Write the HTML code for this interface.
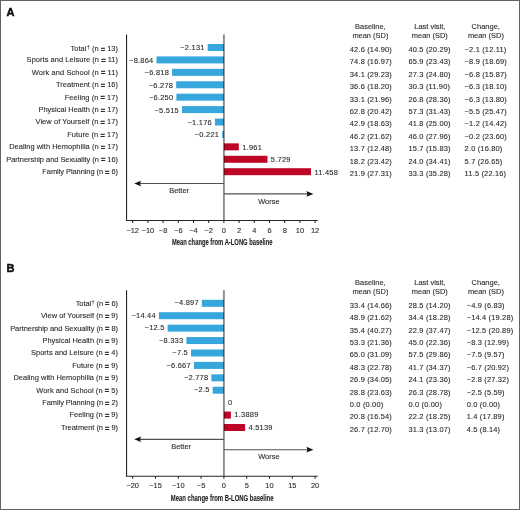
<!DOCTYPE html>
<html><head><meta charset="utf-8"><style>
html,body{margin:0;padding:0;background:#fff;width:520px;height:510px;overflow:hidden}
svg{display:block;will-change:transform}
.v{letter-spacing:0.25px}
.t{letter-spacing:0.17px}
.eq{font-weight:bold;stroke-width:0.35px}
text{font-family:"Liberation Sans",sans-serif;font-size:7.45px;fill:#2a2a2a;stroke:#2a2a2a;stroke-width:0.1px}
</style></head><body>
<svg width="520" height="510" viewBox="0 0 520 510">
<rect x="0" y="0" width="520" height="510" fill="#fff"/>
<text x="6.6" y="15.9" style="font-size:11px;font-weight:bold;fill:#111;stroke:#111;stroke-width:0.5px">A</text>
<rect x="207.7" y="44" width="16.2" height="7" fill="#36a6dc"/>
<text x="204.7" y="50.2" text-anchor="end" class="v">−2.131</text>
<text x="118" y="51.3" text-anchor="end" textLength="47.41">Total<tspan style="font-size:5.6px" dx="0.3" dy="-2.0">†</tspan><tspan dy="2.0"> (n </tspan><tspan class="eq" dy="0.7">=</tspan><tspan dy="-0.7"> 13)</tspan></text>
<text x="349.8" y="51.9" class="t">42.6 (14.90)</text>
<text x="408.5" y="51.9" class="t">40.5 (20.29)</text>
<text x="464.6" y="51.9" class="t">−2.1 (12.11)</text>
<rect x="156.53" y="56.42" width="67.37" height="7" fill="#36a6dc"/>
<text x="153.53" y="62.92" text-anchor="end" class="v">−8.864</text>
<text x="118" y="62.32" text-anchor="end" textLength="91.39">Sports and Leisure (n <tspan class="eq" dy="0.7">=</tspan><tspan dy="-0.7"> 11)</tspan></text>
<text x="349.8" y="64.32" class="t">74.8 (16.97)</text>
<text x="408.5" y="64.32" class="t">65.9 (23.43)</text>
<text x="464.6" y="64.32" class="t">−8.9 (18.69)</text>
<rect x="172.08" y="68.84" width="51.82" height="7" fill="#36a6dc"/>
<text x="169.08" y="75.34" text-anchor="end" class="v">−6.818</text>
<text x="118" y="74.74" text-anchor="end" textLength="86.22">Work and School (n <tspan class="eq" dy="0.7">=</tspan><tspan dy="-0.7"> 11)</tspan></text>
<text x="349.8" y="76.74" class="t">34.1 (29.23)</text>
<text x="408.5" y="76.74" class="t">27.3 (24.80)</text>
<text x="464.6" y="76.74" class="t">−6.8 (15.87)</text>
<rect x="176.19" y="81.26" width="47.71" height="7" fill="#36a6dc"/>
<text x="173.19" y="87.76" text-anchor="end" class="v">−6.278</text>
<text x="118" y="87.16" text-anchor="end" textLength="61.96">Treatment (n <tspan class="eq" dy="0.7">=</tspan><tspan dy="-0.7"> 16)</tspan></text>
<text x="349.8" y="89.16" class="t">36.6 (18.20)</text>
<text x="408.5" y="89.16" class="t">30.3 (11.90)</text>
<text x="464.6" y="89.16" class="t">−6.3 (18.10)</text>
<rect x="176.4" y="93.68" width="47.5" height="7" fill="#36a6dc"/>
<text x="173.4" y="100.18" text-anchor="end" class="v">−6.250</text>
<text x="118" y="99.58" text-anchor="end" textLength="53.31">Feeling (n <tspan class="eq" dy="0.7">=</tspan><tspan dy="-0.7"> 17)</tspan></text>
<text x="349.8" y="101.58" class="t">33.1 (21.96)</text>
<text x="408.5" y="101.58" class="t">26.8 (28.36)</text>
<text x="464.6" y="101.58" class="t">−6.3 (13.80)</text>
<rect x="181.99" y="106.1" width="41.91" height="7" fill="#36a6dc"/>
<text x="178.99" y="112.6" text-anchor="end" class="v">−5.515</text>
<text x="118" y="112" text-anchor="end" textLength="79.57">Physical Health (n <tspan class="eq" dy="0.7">=</tspan><tspan dy="-0.7"> 17)</tspan></text>
<text x="349.8" y="114" class="t">62.8 (20.42)</text>
<text x="408.5" y="114" class="t">57.3 (31.43)</text>
<text x="464.6" y="114" class="t">−5.5 (25.47)</text>
<rect x="214.96" y="118.52" width="8.94" height="7" fill="#36a6dc"/>
<text x="211.96" y="125.02" text-anchor="end" class="v">−1.176</text>
<text x="118" y="124.42" text-anchor="end" textLength="82.50">View of Yourself (n <tspan class="eq" dy="0.7">=</tspan><tspan dy="-0.7"> 17)</tspan></text>
<text x="349.8" y="126.42" class="t">42.9 (18.63)</text>
<text x="408.5" y="126.42" class="t">41.8 (25.00)</text>
<text x="464.6" y="126.42" class="t">−1.2 (14.42)</text>
<rect x="222.22" y="130.94" width="1.68" height="7" fill="#36a6dc"/>
<text x="219.22" y="137.44" text-anchor="end" class="v">−0.221</text>
<text x="118" y="136.84" text-anchor="end" textLength="50.80">Future (n <tspan class="eq" dy="0.7">=</tspan><tspan dy="-0.7"> 17)</tspan></text>
<text x="349.8" y="138.84" class="t">46.2 (21.62)</text>
<text x="408.5" y="138.84" class="t">46.0 (27.96)</text>
<text x="464.6" y="138.84" class="t">−0.2 (23.60)</text>
<rect x="223.9" y="143.36" width="14.9" height="7" fill="#bf0526"/>
<text x="242.2" y="149.86" class="v">1.961</text>
<text x="118" y="149.26" text-anchor="end" textLength="108.87">Dealing with Hemophilia (n <tspan class="eq" dy="0.7">=</tspan><tspan dy="-0.7"> 17)</tspan></text>
<text x="349.8" y="151.26" class="t">13.7 (12.48)</text>
<text x="408.5" y="151.26" class="t">15.7 (15.83)</text>
<text x="464.6" y="151.26" class="t">2.0 (16.80)</text>
<rect x="223.9" y="155.78" width="43.54" height="7" fill="#bf0526"/>
<text x="270.84" y="162.28" class="v">5.729</text>
<text x="118" y="161.68" text-anchor="end" textLength="111.74">Partnership and Sexuality (n <tspan class="eq" dy="0.7">=</tspan><tspan dy="-0.7"> 16)</tspan></text>
<text x="349.8" y="163.68" class="t">18.2 (23.42)</text>
<text x="408.5" y="163.68" class="t">24.0 (34.41)</text>
<text x="464.6" y="163.68" class="t">5.7 (26.65)</text>
<rect x="223.9" y="168.2" width="87.08" height="7" fill="#bf0526"/>
<text x="314.38" y="174.7" class="v">11.458</text>
<text x="118" y="174.1" text-anchor="end" textLength="75.65">Family Planning (n <tspan class="eq" dy="0.7">=</tspan><tspan dy="-0.7"> 6)</tspan></text>
<text x="349.8" y="176.1" class="t">21.9 (27.31)</text>
<text x="408.5" y="176.1" class="t">33.3 (35.28)</text>
<text x="464.6" y="176.1" class="t">11.5 (22.16)</text>
<text x="370.4" y="28.9" text-anchor="middle">Baseline,</text>
<text x="370.4" y="37.7" text-anchor="middle">mean (SD)</text>
<text x="429.8" y="28.9" text-anchor="middle">Last visit,</text>
<text x="429.8" y="37.7" text-anchor="middle">mean (SD)</text>
<text x="471.6" y="28.9" textLength="28.3" lengthAdjust="spacing">Change,</text>
<text x="485.9" y="37.7" text-anchor="middle">mean (SD)</text>
<line x1="223.9" y1="34.4" x2="223.9" y2="220.5" stroke="#000" stroke-opacity="0.45" stroke-width="1.9"/>
<path d="M126.55 34.4 V220.5 H317.8" fill="none" stroke="#262626" stroke-width="1.1"/>
<line x1="132.7" y1="220.5" x2="132.7" y2="223" stroke="#1e1e1e" stroke-width="1"/>
<text x="132.7" y="232.5" text-anchor="middle">−12</text>
<line x1="147.9" y1="220.5" x2="147.9" y2="223" stroke="#1e1e1e" stroke-width="1"/>
<text x="147.9" y="232.5" text-anchor="middle">−10</text>
<line x1="163.1" y1="220.5" x2="163.1" y2="223" stroke="#1e1e1e" stroke-width="1"/>
<text x="163.1" y="232.5" text-anchor="middle">−8</text>
<line x1="178.3" y1="220.5" x2="178.3" y2="223" stroke="#1e1e1e" stroke-width="1"/>
<text x="178.3" y="232.5" text-anchor="middle">−6</text>
<line x1="193.5" y1="220.5" x2="193.5" y2="223" stroke="#1e1e1e" stroke-width="1"/>
<text x="193.5" y="232.5" text-anchor="middle">−4</text>
<line x1="208.7" y1="220.5" x2="208.7" y2="223" stroke="#1e1e1e" stroke-width="1"/>
<text x="208.7" y="232.5" text-anchor="middle">−2</text>
<line x1="223.9" y1="220.5" x2="223.9" y2="223" stroke="#1e1e1e" stroke-width="1"/>
<text x="223.9" y="232.5" text-anchor="middle">0</text>
<line x1="239.1" y1="220.5" x2="239.1" y2="223" stroke="#1e1e1e" stroke-width="1"/>
<text x="239.1" y="232.5" text-anchor="middle">2</text>
<line x1="254.3" y1="220.5" x2="254.3" y2="223" stroke="#1e1e1e" stroke-width="1"/>
<text x="254.3" y="232.5" text-anchor="middle">4</text>
<line x1="269.5" y1="220.5" x2="269.5" y2="223" stroke="#1e1e1e" stroke-width="1"/>
<text x="269.5" y="232.5" text-anchor="middle">6</text>
<line x1="284.7" y1="220.5" x2="284.7" y2="223" stroke="#1e1e1e" stroke-width="1"/>
<text x="284.7" y="232.5" text-anchor="middle">8</text>
<line x1="299.9" y1="220.5" x2="299.9" y2="223" stroke="#1e1e1e" stroke-width="1"/>
<text x="299.9" y="232.5" text-anchor="middle">10</text>
<line x1="315.1" y1="220.5" x2="315.1" y2="223" stroke="#1e1e1e" stroke-width="1"/>
<text x="315.1" y="232.5" text-anchor="middle">12</text>
<line x1="223.9" y1="183.5" x2="138.5" y2="183.5" stroke="#505050" stroke-width="1.15"/>
<path d="M134.2 183.5 L141.0 180.7 L140.0 183.5 L141.0 186.3 Z" fill="#111"/>
<text x="179.1" y="193.2" text-anchor="middle">Better</text>
<line x1="223.9" y1="193.9" x2="309" y2="193.9" stroke="#505050" stroke-width="1.15"/>
<path d="M313.4 193.9 L306.4 191 L307.5 193.9 L306.4 196.8 Z" fill="#111"/>
<text x="268.9" y="203.6" text-anchor="middle">Worse</text>
<text x="171.9" y="244.8" style="font-weight:bold;font-size:8.2px;fill:#1a1a1a" textLength="100.6" lengthAdjust="spacingAndGlyphs">Mean change from A-LONG baseline</text>
<text x="6.6" y="271.7" style="font-size:11px;font-weight:bold;fill:#111;stroke:#111;stroke-width:0.5px">B</text>
<rect x="201.86" y="299.8" width="22.04" height="7" fill="#36a6dc"/>
<text x="198.86" y="304.9" text-anchor="end" class="v">−4.897</text>
<text x="118" y="305.7" text-anchor="end" textLength="42.31">Total<tspan style="font-size:5.6px" dx="0.3" dy="-2.0">†</tspan><tspan dy="2.0"> (n </tspan><tspan class="eq" dy="0.7">=</tspan><tspan dy="-0.7"> 6)</tspan></text>
<text x="349.8" y="307.7" class="t">33.4 (14.66)</text>
<text x="408.5" y="307.7" class="t">28.5 (14.20)</text>
<text x="466.7" y="307.7" class="t">−4.9 (6.83)</text>
<rect x="158.92" y="312.22" width="64.98" height="7" fill="#36a6dc"/>
<text x="155.92" y="317.92" text-anchor="end" class="v">−14.44</text>
<text x="118" y="318.12" text-anchor="end" textLength="77.01">View of Yourself (n <tspan class="eq" dy="0.7">=</tspan><tspan dy="-0.7"> 9)</tspan></text>
<text x="349.8" y="320.12" class="t">48.9 (21.62)</text>
<text x="408.5" y="320.12" class="t">34.4 (18.28)</text>
<text x="466.7" y="320.12" class="t">−14.4 (19.28)</text>
<rect x="167.65" y="324.64" width="56.25" height="7" fill="#36a6dc"/>
<text x="164.65" y="330.34" text-anchor="end" class="v">−12.5</text>
<text x="118" y="330.54" text-anchor="end" textLength="107.83">Partnership and Sexuality (n <tspan class="eq" dy="0.7">=</tspan><tspan dy="-0.7"> 8)</tspan></text>
<text x="349.8" y="332.54" class="t">35.4 (40.27)</text>
<text x="408.5" y="332.54" class="t">22.9 (37.47)</text>
<text x="466.7" y="332.54" class="t">−12.5 (20.89)</text>
<rect x="186.4" y="337.06" width="37.5" height="7" fill="#36a6dc"/>
<text x="183.4" y="342.76" text-anchor="end" class="v">−8.333</text>
<text x="118" y="342.96" text-anchor="end" textLength="75.52">Physical Health (n <tspan class="eq" dy="0.7">=</tspan><tspan dy="-0.7"> 9)</tspan></text>
<text x="349.8" y="344.96" class="t">53.3 (21.36)</text>
<text x="408.5" y="344.96" class="t">45.0 (22.36)</text>
<text x="466.7" y="344.96" class="t">−8.3 (12.99)</text>
<rect x="191" y="349.48" width="32.9" height="7" fill="#36a6dc"/>
<text x="188" y="355.18" text-anchor="end" class="v">−7.5</text>
<text x="118" y="355.38" text-anchor="end" textLength="87.03">Sports and Leisure (n <tspan class="eq" dy="0.7">=</tspan><tspan dy="-0.7"> 4)</tspan></text>
<text x="349.8" y="357.38" class="t">65.0 (31.09)</text>
<text x="408.5" y="357.38" class="t">57.5 (29.86)</text>
<text x="466.7" y="357.38" class="t">−7.5 (9.57)</text>
<rect x="193.9" y="361.9" width="30" height="7" fill="#36a6dc"/>
<text x="190.9" y="367.6" text-anchor="end" class="v">−6.667</text>
<text x="118" y="367.8" text-anchor="end" textLength="45.87">Future (n <tspan class="eq" dy="0.7">=</tspan><tspan dy="-0.7"> 9)</tspan></text>
<text x="349.8" y="369.8" class="t">48.3 (22.78)</text>
<text x="408.5" y="369.8" class="t">41.7 (34.37)</text>
<text x="466.7" y="369.8" class="t">−6.7 (20.92)</text>
<rect x="211.4" y="374.32" width="12.5" height="7" fill="#36a6dc"/>
<text x="208.4" y="380.02" text-anchor="end" class="v">−2.778</text>
<text x="118" y="380.22" text-anchor="end" textLength="104.55">Dealing with Hemophilia (n <tspan class="eq" dy="0.7">=</tspan><tspan dy="-0.7"> 9)</tspan></text>
<text x="349.8" y="382.22" class="t">26.9 (34.05)</text>
<text x="408.5" y="382.22" class="t">24.1 (23.36)</text>
<text x="466.7" y="382.22" class="t">−2.8 (27.32)</text>
<rect x="212.65" y="386.74" width="11.25" height="7" fill="#36a6dc"/>
<text x="209.65" y="392.44" text-anchor="end" class="v">−2.5</text>
<text x="118" y="392.64" text-anchor="end" textLength="81.81">Work and School (n <tspan class="eq" dy="0.7">=</tspan><tspan dy="-0.7"> 5)</tspan></text>
<text x="349.8" y="394.64" class="t">28.8 (23.63)</text>
<text x="408.5" y="394.64" class="t">26.3 (28.78)</text>
<text x="466.7" y="394.64" class="t">−2.5 (5.59)</text>
<text x="227.9" y="404.86" class="v">0</text>
<text x="118" y="405.06" text-anchor="end" textLength="75.85">Family Planning (n <tspan class="eq" dy="0.7">=</tspan><tspan dy="-0.7"> 2)</tspan></text>
<text x="349.8" y="407.06" class="t">0.0 (0.00)</text>
<text x="408.5" y="407.06" class="t">0.0 (0.00)</text>
<text x="466.7" y="407.06" class="t">0.0 (0.00)</text>
<rect x="223.9" y="411.58" width="7" height="7" fill="#bf0526"/>
<text x="234.3" y="417.28" class="v">1.3889</text>
<text x="118" y="417.48" text-anchor="end" textLength="48.57">Feeling (n <tspan class="eq" dy="0.7">=</tspan><tspan dy="-0.7"> 9)</tspan></text>
<text x="349.8" y="419.48" class="t">20.8 (16.54)</text>
<text x="408.5" y="419.48" class="t">22.2 (18.25)</text>
<text x="466.7" y="419.48" class="t">1.4 (17.89)</text>
<rect x="223.9" y="424" width="21.2" height="7" fill="#bf0526"/>
<text x="248.5" y="429.7" class="v">4.5139</text>
<text x="118" y="429.9" text-anchor="end" textLength="57.12">Treatment (n <tspan class="eq" dy="0.7">=</tspan><tspan dy="-0.7"> 9)</tspan></text>
<text x="349.8" y="431.9" class="t">26.7 (12.70)</text>
<text x="408.5" y="431.9" class="t">31.3 (13.07)</text>
<text x="466.7" y="431.9" class="t">4.5 (8.14)</text>
<text x="370.4" y="284.7" text-anchor="middle">Baseline,</text>
<text x="370.4" y="293.5" text-anchor="middle">mean (SD)</text>
<text x="429.8" y="284.7" text-anchor="middle">Last visit,</text>
<text x="429.8" y="293.5" text-anchor="middle">mean (SD)</text>
<text x="471.6" y="284.7" textLength="28.3" lengthAdjust="spacing">Change,</text>
<text x="485.9" y="293.5" text-anchor="middle">mean (SD)</text>
<line x1="223.9" y1="290.2" x2="223.9" y2="476.3" stroke="#000" stroke-opacity="0.45" stroke-width="1.9"/>
<path d="M126.55 290.2 V476.3 H317.8" fill="none" stroke="#262626" stroke-width="1.1"/>
<line x1="132.7" y1="476.3" x2="132.7" y2="478.8" stroke="#1e1e1e" stroke-width="1"/>
<text x="132.7" y="488.3" text-anchor="middle">−20</text>
<line x1="155.5" y1="476.3" x2="155.5" y2="478.8" stroke="#1e1e1e" stroke-width="1"/>
<text x="155.5" y="488.3" text-anchor="middle">−15</text>
<line x1="178.3" y1="476.3" x2="178.3" y2="478.8" stroke="#1e1e1e" stroke-width="1"/>
<text x="178.3" y="488.3" text-anchor="middle">−10</text>
<line x1="201.1" y1="476.3" x2="201.1" y2="478.8" stroke="#1e1e1e" stroke-width="1"/>
<text x="201.1" y="488.3" text-anchor="middle">−5</text>
<line x1="223.9" y1="476.3" x2="223.9" y2="478.8" stroke="#1e1e1e" stroke-width="1"/>
<text x="223.9" y="488.3" text-anchor="middle">0</text>
<line x1="246.7" y1="476.3" x2="246.7" y2="478.8" stroke="#1e1e1e" stroke-width="1"/>
<text x="246.7" y="488.3" text-anchor="middle">5</text>
<line x1="269.5" y1="476.3" x2="269.5" y2="478.8" stroke="#1e1e1e" stroke-width="1"/>
<text x="269.5" y="488.3" text-anchor="middle">10</text>
<line x1="292.3" y1="476.3" x2="292.3" y2="478.8" stroke="#1e1e1e" stroke-width="1"/>
<text x="292.3" y="488.3" text-anchor="middle">15</text>
<line x1="315.1" y1="476.3" x2="315.1" y2="478.8" stroke="#1e1e1e" stroke-width="1"/>
<text x="315.1" y="488.3" text-anchor="middle">20</text>
<line x1="223.9" y1="439.3" x2="138.5" y2="439.3" stroke="#505050" stroke-width="1.15"/>
<path d="M134.2 439.3 L141.0 436.5 L140.0 439.3 L141.0 442.1 Z" fill="#111"/>
<text x="181.1" y="449" text-anchor="middle">Better</text>
<line x1="223.9" y1="449.7" x2="309" y2="449.7" stroke="#505050" stroke-width="1.15"/>
<path d="M313.4 449.7 L306.4 446.8 L307.5 449.7 L306.4 452.6 Z" fill="#111"/>
<text x="268.9" y="459.4" text-anchor="middle">Worse</text>
<text x="170.8" y="500.6" style="font-weight:bold;font-size:8.2px;fill:#1a1a1a" textLength="102.7" lengthAdjust="spacingAndGlyphs">Mean change from B-LONG baseline</text>
<rect x="0.5" y="0.5" width="519" height="509" fill="none" stroke="#636363" stroke-width="1"/>
</svg>
</body></html>
